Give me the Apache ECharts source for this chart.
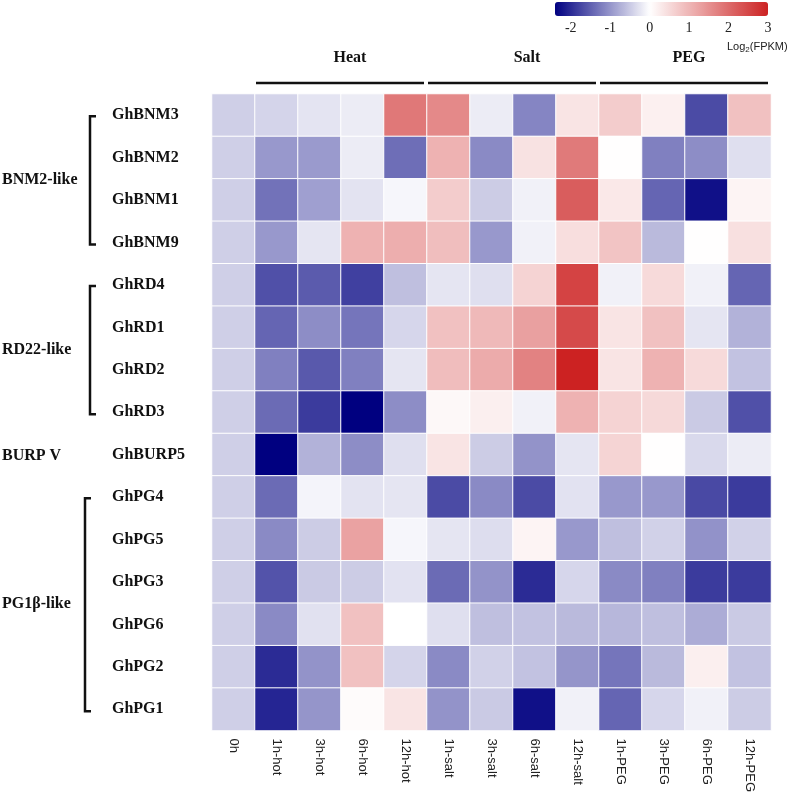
<!DOCTYPE html>
<html>
<head>
<meta charset="utf-8">
<script src="https://cdn.jsdelivr.net/npm/echarts@6/dist/echarts.min.js"></script>
<style>html,body{margin:0;padding:0;background:#fff}#c{width:787px;height:795px}</style>
</head>
<body>
<div id="c"></div>
<script>
const conditions = ['0h','1h-hot','3h-hot','6h-hot','12h-hot','1h-salt','3h-salt','6h-salt','12h-salt','1h-PEG','3h-PEG','6h-PEG','12h-PEG'];
const genes = ['GhBNM3','GhBNM2','GhBNM1','GhBNM9','GhRD4','GhRD1','GhRD2','GhRD3','GhBURP5','GhPG4','GhPG5','GhPG3','GhPG6','GhPG2','GhPG1'];
const legendTicks = [-2, -1, 0, 1, 2, 3];
const colorMin = -2.4;
const colorMax = 3;

const GhBNM3  = [-0.45,-0.40,-0.25,-0.18, 1.83, 1.60,-0.18,-1.15, 0.37, 0.70, 0.20,-1.70, 0.84];
const GhBNM2  = [-0.45,-0.97,-0.95,-0.18,-1.37, 1.05,-1.10, 0.40, 1.80, 0.02,-1.20,-1.08,-0.30];
const GhBNM1  = [-0.45,-1.33,-0.90,-0.26,-0.08, 0.70,-0.48,-0.13, 2.20, 0.32,-1.45,-2.25, 0.15];
const GhBNM9  = [-0.45,-0.97,-0.24, 1.05, 1.10, 0.88,-0.97,-0.13, 0.45, 0.80,-0.65, 0.02, 0.42];
const GhRD4   = [-0.45,-1.65,-1.55,-1.80,-0.60,-0.24,-0.30, 0.60, 2.55,-0.13, 0.50,-0.13,-1.45];
const GhRD1   = [-0.45,-1.45,-1.08,-1.30,-0.38, 0.85, 0.95, 1.30, 2.45, 0.37, 0.85,-0.24,-0.72];
const GhRD2   = [-0.45,-1.20,-1.57,-1.20,-0.24, 0.90, 1.15, 1.70, 3.00, 0.37, 1.05, 0.50,-0.57];
const GhRD3   = [-0.45,-1.40,-1.85,-2.40,-1.08, 0.10, 0.22,-0.13, 1.05, 0.60, 0.52,-0.50,-1.65];
const GhBURP5 = [-0.45,-2.40,-0.72,-1.08,-0.30, 0.37,-0.48,-1.02,-0.24, 0.58, 0.02,-0.36,-0.18];
const GhPG4   = [-0.45,-1.40,-0.10,-0.26,-0.24,-1.70,-1.10,-1.70,-0.27,-0.97,-0.97,-1.72,-1.85];
const GhPG5   = [-0.45,-1.10,-0.48, 1.27,-0.08,-0.24,-0.32, 0.15,-0.97,-0.60,-0.43,-1.03,-0.43];
const GhPG3   = [-0.45,-1.62,-0.50,-0.48,-0.27,-1.40,-1.02,-2.00,-0.38,-1.10,-1.20,-1.85,-1.85];
const GhPG6   = [-0.45,-1.10,-0.28, 0.85, 0.00,-0.30,-0.60,-0.57,-0.65,-0.68,-0.60,-0.78,-0.50];
const GhPG2   = [-0.45,-2.00,-1.02, 0.85,-0.40,-1.10,-0.43,-0.57,-1.00,-1.30,-0.65, 0.22,-0.57];
const GhPG1   = [-0.45,-2.05,-1.00, 0.05, 0.37,-1.02,-0.50,-2.25,-0.13,-1.45,-0.38,-0.13,-0.48];

const rows = [GhBNM3,GhBNM2,GhBNM1,GhBNM9,GhRD4,GhRD1,GhRD2,GhRD3,GhBURP5,GhPG4,GhPG5,GhPG3,GhPG6,GhPG2,GhPG1];

const treatmentGroups = [
  {name:'Heat', from:1, to:4, dx:10},
  {name:'Salt', from:5, to:8, dx:15},
  {name:'PEG',  from:9, to:12, dx:5}
];
const familyGroups = [
  {name:'BNM2-like', from:0, to:3, bracket:true, bx:90},
  {name:'RD22-like', from:4, to:7, bracket:true, bx:90},
  {name:'BURP V',    from:8, to:8, bracket:false},
  {name:'PG1β-like', from:9, to:14, bracket:true, bx:85}
];

const data = [];
rows.forEach((r, ri) => r.forEach((v, ci) => data.push([ci, ri, v])));

const chart = echarts.init(document.getElementById('c'), null, {renderer:'canvas'});
const serif = 'Liberation Serif';
const sans = 'Liberation Sans';

chart.setOption({
  animation: false,
  grid: [
    {left:212, right:16, top:94, bottom:63.5},
    {left:555, width:213, top:2, height:14}
  ],
  xAxis: [
    {type:'category', gridIndex:0, data:conditions, position:'bottom',
     axisLine:{show:false}, axisTick:{show:false}, splitLine:{show:false},
     axisLabel:{rotate:-90, margin:8, fontFamily:sans, fontSize:13, color:'#222'}},
    {type:'value', gridIndex:1, min:colorMin, max:colorMax, position:'bottom',
     axisLine:{show:false}, axisTick:{show:false}, splitLine:{show:false},
     axisLabel:{customValues:legendTicks, margin:5, fontFamily:serif, fontSize:14, color:'#222'}}
  ],
  yAxis: [
    {type:'category', gridIndex:0, data:genes, inverse:true,
     axisLine:{show:false}, axisTick:{show:false}, splitLine:{show:false},
     axisLabel:{align:'left', margin:100, fontFamily:serif, fontWeight:'bold', fontSize:16, color:'#111'}},
    {type:'value', gridIndex:1, show:false}
  ],
  visualMap: {
    type:'continuous', seriesIndex:0, min:colorMin, max:colorMax,
    orient:'horizontal', left:555, top:2, itemWidth:14, itemHeight:213,
    padding:0, calculable:false, hoverLink:false, text:null, showLabel:false,
    inRange:{color:['#000080','#4040a0','#8080c0','#bfbfdf','#ffffff','#f5d3d3','#eba7a7','#e07a7a','#d64e4e','#cc2222']}
  },
  series: [{
    type:'heatmap', xAxisIndex:0, yAxisIndex:0, data:data,
    itemStyle:{borderColor:'#ffffff', borderWidth:1},
    emphasis:{disabled:true}
  }]
});

function px(ci, ri) { return chart.convertToPixel({gridIndex:0}, [ci, ri]); }
const p00 = px(0,0), p11 = px(1,1);
const bw = p11[0]-p00[0], bh = p11[1]-p00[1];
const gridTop = p00[1]-bh/2;
const graphics = [];

treatmentGroups.forEach(g => {
  const x0 = px(g.from,0)[0]-bw/2 + 1;
  const x1 = px(g.to,0)[0]+bw/2 - 3;
  graphics.push({type:'line', shape:{x1:x0, y1:gridTop-11, x2:x1, y2:gridTop-11}, style:{stroke:'#111', lineWidth:2.5}});
  graphics.push({type:'text', x:(x0+x1)/2+g.dx, y:gridTop-36, style:{text:g.name, font:'bold 16px "Liberation Serif"', fill:'#111', textAlign:'center', textVerticalAlign:'middle'}});
});

familyGroups.forEach(g => {
  const y0 = px(0,g.from)[1], y1 = px(0,g.to)[1];
  if (g.bracket) {
    graphics.push({type:'polyline', shape:{points:[[g.bx+6,y0+1],[g.bx,y0+1],[g.bx,y1+2],[g.bx+6,y1+2]]}, style:{stroke:'#111', lineWidth:2.5, fill:null}});
  }
  graphics.push({type:'text', x:2, y:(y0+y1)/2+1, style:{text:g.name, font:'bold 16px "Liberation Serif"', fill:'#111', textAlign:'left', textVerticalAlign:'middle'}});
});

graphics.push({type:'text', x:727, y:47, style:{
  text:'{a|Log}{b|2}{a|(FPKM)}', textVerticalAlign:'middle',
  rich:{a:{fontFamily:sans, fontSize:11, fill:'#222'}, b:{fontFamily:sans, fontSize:8, fill:'#222', padding:[5,0,0,0]}}
}});

chart.setOption({graphic: graphics});
</script>
</body>
</html>
